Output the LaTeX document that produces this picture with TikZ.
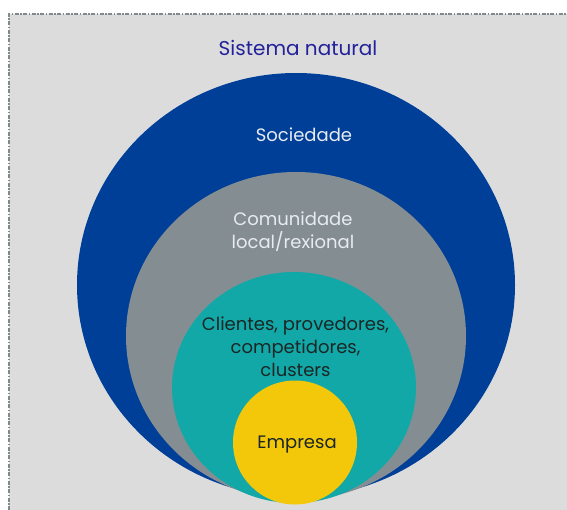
\documentclass[tikz,border=0pt]{standalone}
\usepackage{fontspec}
\setmainfont{Poppins}
\definecolor{fundo}{HTML}{DCDCDC}
\definecolor{bordo}{HTML}{808A8C}
\definecolor{azul}{HTML}{003F98}
\definecolor{gris}{HTML}{848E92}
\definecolor{turquesa}{HTML}{13A8A8}
\definecolor{amarelo}{HTML}{F4C80A}
\definecolor{titulo}{HTML}{22229A}
\definecolor{claro}{HTML}{E8ECF0}
\definecolor{escuro}{HTML}{1A2626}
\tikzset{rotulo/.style={align=center, font=\fontsize{18}{23}\selectfont, inner sep=0pt}}
\begin{document}
\begin{tikzpicture}[x=1pt, y=-1pt]
\useasboundingbox (0,0) rectangle (567,510);
\fill[fundo] (9,14) rectangle (567,510);
\draw[bordo, line width=2.5pt, dash pattern=on 4pt off 1.5pt on 1.5pt off 1.5pt] (9,510) -- (9,14) -- (567,14);
\fill[azul] (296,285) ellipse [x radius=219, y radius=212];
\fill[gris] (296,336) ellipse [x radius=170, y radius=164];
\fill[turquesa] (294,387.5) ellipse [x radius=122, y radius=115.5];
\fill[amarelo] (295,442.5) circle [radius=62];
\node[rotulo, titulo, font=\fontsize{20}{24}\selectfont] (sistema) at (298,48) {Sistema natural};
\node[rotulo, claro] (sociedade) at (304,135) {Sociedade};
\node[rotulo, claro] (comunidade) at (293,232) {Comunidade\\local/rexional};
\node[rotulo, escuro] (clientes) at (295.5,347) {Clientes, provedores,\\competidores,\\clusters};
\node[rotulo, escuro] (empresa) at (297,445) {Empresa};
\end{tikzpicture}
\end{document}
